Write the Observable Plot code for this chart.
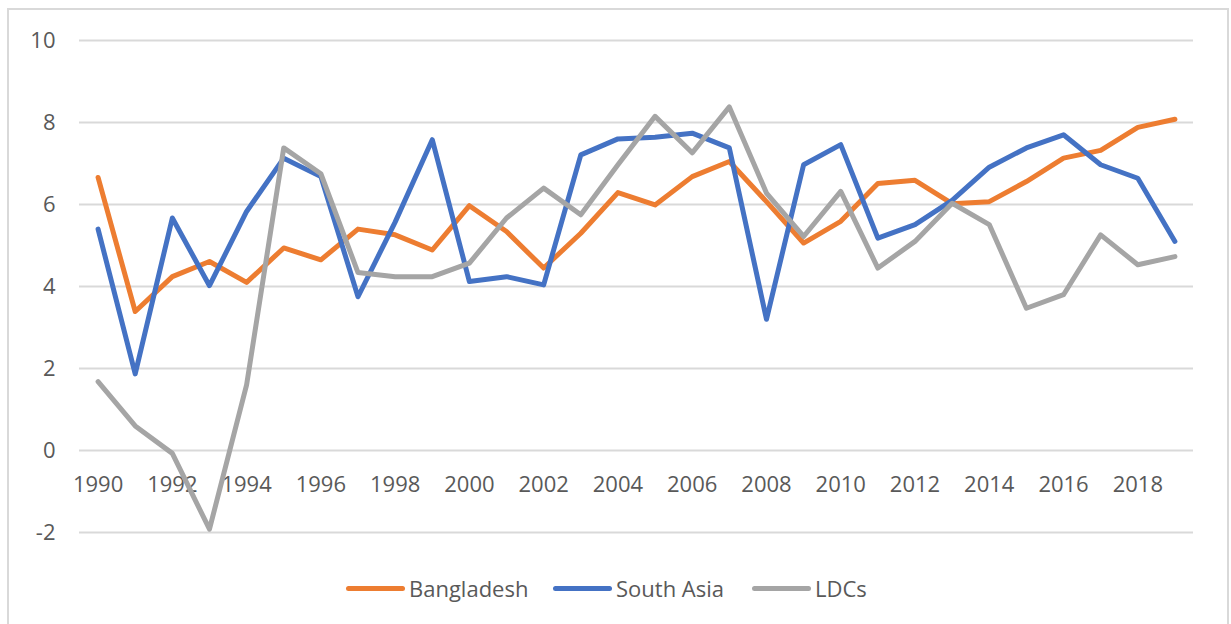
<!DOCTYPE html>
<html>
<head>
<meta charset="utf-8">
<script src="https://cdn.jsdelivr.net/npm/d3@7"></script>
<script src="https://cdn.jsdelivr.net/npm/@observablehq/plot@0.6"></script>
<style>
  body { margin: 0; background: #fff; overflow: hidden; font-family: "Open Sans", sans-serif; }
  #frame { position: absolute; left: 7px; top: 8px; width: 1222px; height: 700px; border: 2px solid #d9d9d9; box-sizing: border-box; pointer-events: none; }
  #chart { position: absolute; left: 0; top: 0; }
  #legend { position: absolute; top: 572px; left: 0; width: 1231px; height: 32px; font-size: 22px; color: #595959; }
  .item { position: absolute; top: 0; height: 32px; display: flex; align-items: center; white-space: nowrap; }
  .sw { width: 59px; height: 5px; border-radius: 3px; margin-right: 4px; }
</style>
</head>
<body>
<div id="chart"></div>
<div id="legend"></div>
<div id="frame"></div>
<script>
const years = [1990, 1991, 1992, 1993, 1994, 1995, 1996, 1997, 1998, 1999,
               2000, 2001, 2002, 2003, 2004, 2005, 2006, 2007, 2008, 2009,
               2010, 2011, 2012, 2013, 2014, 2015, 2016, 2017, 2018, 2019];
const bangladesh = [6.66, 3.39, 4.24, 4.61, 4.10, 4.94, 4.65, 5.40, 5.26, 4.89,
                    5.97, 5.34, 4.45, 5.30, 6.29, 5.99, 6.68, 7.05, 6.07, 5.06,
                    5.59, 6.51, 6.59, 6.02, 6.07, 6.56, 7.13, 7.32, 7.88, 8.08];
const southAsia = [5.40, 1.87, 5.67, 4.02, 5.83, 7.13, 6.68, 3.75, 5.57, 7.58,
                   4.12, 4.24, 4.04, 7.21, 7.60, 7.64, 7.74, 7.38, 3.20, 6.97,
                   7.46, 5.18, 5.51, 6.10, 6.91, 7.38, 7.70, 6.97, 6.64, 5.10];
const ldcs = [1.68, 0.60, -0.07, -1.92, 1.60, 7.38, 6.75, 4.34, 4.24, 4.24,
              4.57, 5.67, 6.40, 5.75, 6.97, 8.15, 7.26, 8.38, 6.28, 5.22,
              6.32, 4.45, 5.10, 6.03, 5.51, 3.47, 3.80, 5.26, 4.53, 4.73];
const xTickLabels = [1990, 1992, 1994, 1996, 1998, 2000, 2002, 2004,
                     2006, 2008, 2010, 2012, 2014, 2016, 2018];
const yTicks = [-2, 0, 2, 4, 6, 8, 10];
const seriesNames = ["Bangladesh", "South Asia", "LDCs"];
const seriesColors = ["#ED7D31", "#4472C4", "#A5A5A5"];
const seriesValues = [bangladesh, southAsia, ldcs];

const tables = seriesValues.map(vals => years.map((yr, i) => ({year: yr, value: vals[i]})));

const plot = Plot.plot({
  width: 1231,
  height: 560,
  marginLeft: 79,
  marginRight: 38,
  marginTop: 40,
  marginBottom: 28,
  x: {domain: [1989.5, 2019.5], axis: null},
  y: {domain: [-2, 10], axis: null},
  style: {fontFamily: "Open Sans, sans-serif", fontSize: "22px", color: "#595959", background: "transparent"},
  marks: [
    Plot.gridY(yTicks, {stroke: "#d9d9d9", strokeOpacity: 1, strokeWidth: 2}),
    Plot.axisY(yTicks, {tickSize: 0, tickPadding: 24, fontSize: 22, fill: "#595959", label: null, tickFormat: d => String(d)}),
    Plot.text(xTickLabels, {x: d => d, y: 0, dy: 34, text: d => String(d), fill: "#595959", fontSize: 22}),
    ...tables.map((t, k) => Plot.line(t, {
      x: "year", y: "value", stroke: seriesColors[k], strokeWidth: 5,
      strokeLinejoin: "round", strokeLinecap: "round"
    }))
  ]
});
document.getElementById("chart").appendChild(plot);

const legendLeft = [346, 553, 752];
const legend = document.getElementById("legend");
seriesNames.forEach((name, k) => {
  const item = document.createElement("div");
  item.className = "item";
  item.style.left = legendLeft[k] + "px";
  const sw = document.createElement("span");
  sw.className = "sw";
  sw.style.background = seriesColors[k];
  const label = document.createElement("span");
  label.textContent = name;
  item.appendChild(sw);
  item.appendChild(label);
  legend.appendChild(item);
});
</script>
</body>
</html>
